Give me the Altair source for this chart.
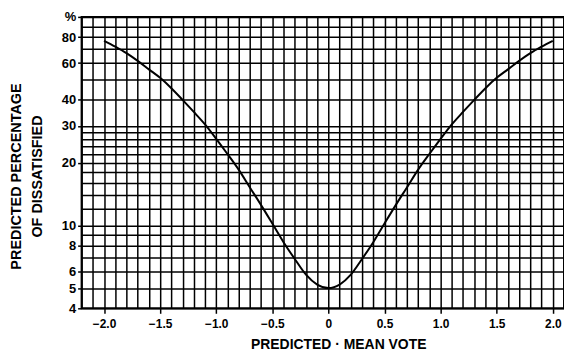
import altair as alt
import pandas as pd

# Curve: predicted mean vote vs predicted % dissatisfied
pmv = [-2.0, -1.9, -1.8, -1.7, -1.6, -1.5, -1.4, -1.3, -1.2, -1.1, -1.0,
       -0.9, -0.8, -0.7, -0.6, -0.5, -0.4, -0.3, -0.2, -0.1, 0.0,
       0.1, 0.2, 0.3, 0.4, 0.5, 0.6, 0.7, 0.8, 0.9, 1.0,
       1.1, 1.2, 1.3, 1.4, 1.5, 1.6, 1.7, 1.8, 1.9, 2.0]
ppd = [76.8, 72.0, 67.0, 61.5, 56.0, 51.0, 45.5, 40.0, 35.0, 30.5, 26.0,
       22.0, 18.5, 15.2, 12.5, 10.2, 8.3, 6.9, 5.8, 5.2, 5.0,
       5.2, 5.8, 6.9, 8.3, 10.2, 12.5, 15.2, 18.5, 22.0, 26.0,
       30.5, 35.0, 40.0, 45.5, 51.0, 56.0, 61.5, 67.0, 72.0, 76.8]

# Axis grid / label values
x_grid = [round(-2.2 + 0.1 * i, 1) for i in range(44)]
y_grid = [4, 5, 6, 7, 8, 9, 10, 12, 14, 16, 18, 20, 22, 24, 26, 28, 30,
          40, 50, 60, 70, 80, 90, 100]
y_labels = [4, 5, 6, 8, 10, 20, 30, 40, 60, 80]

df = pd.DataFrame({"pmv": pmv, "ppd": ppd})

half_test = "abs(datum.value*2 - round(datum.value*2)) < 0.001"
x_label_expr = (f"({half_test}) ? (abs(datum.value) < 0.001 ? '0' : format(datum.value, '.1f')) : ''")
ylab_arr = "[" + ",".join(str(v) for v in y_labels) + "]"
y_test = f"indexof({ylab_arr}, datum.value) >= 0 || datum.value == 100"
y_label_expr = (f"indexof({ylab_arr}, datum.value) >= 0 ? '' + datum.value : "
                f"(datum.value == 100 ? '%' : '')")

FONT = "Liberation Sans"

x_axis = alt.Axis(
    values=x_grid,
    grid=True, gridColor="black", gridWidth=1.5, gridOpacity=1,
    domain=False,
    ticks=True, tickSize=5, tickWidth=1.5,
    tickColor={"condition": {"test": half_test, "value": "black"}, "value": "transparent"},
    labelExpr=x_label_expr, labelOverlap=False, labelFlush=False,
    labelFont=FONT, labelFontSize=12, labelFontWeight="bold", labelColor="black",
    labelPadding=5,
    title="PREDICTED · MEAN VOTE",
    titleFont=FONT, titleFontSize=14, titleFontWeight="bold", titleColor="black",
    titleX=258, titleY=29, titleBaseline="top", titleAlign="center",
)

y_axis = alt.Axis(
    values=y_grid,
    grid=True, gridColor="black", gridWidth=1.5, gridOpacity=1,
    domain=False,
    ticks=True, tickSize=4, tickWidth=1.5,
    tickColor={"condition": {"test": y_test, "value": "black"}, "value": "transparent"},
    labelExpr=y_label_expr, labelOverlap=False, labelFlush=False,
    labelFont=FONT, labelFontSize=13, labelFontWeight="bold", labelColor="black",
    labelPadding=2,
    title=["PREDICTED PERCENTAGE", "OF DISSATISFIED"],
    titleFont=FONT, titleFontSize=14.5, titleFontWeight="bold", titleColor="black",
    titleAngle=270, titleX=-72, titleY=160, titleBaseline="top", titleAlign="center",
    titleLineHeight=21,
)

chart = alt.Chart(df).mark_line(
    color="black", strokeWidth=2, interpolate="monotone"
).encode(
    x=alt.X("pmv:Q", scale=alt.Scale(domain=[-2.2, 2.1], nice=False, zero=False), axis=x_axis),
    y=alt.Y("ppd:Q", scale=alt.Scale(type="log", domain=[4, 100], nice=False), axis=y_axis),
).properties(
    width=485, height=293,
    padding={"left": 74, "top": 8, "right": 0, "bottom": 44},
    autosize=alt.AutoSizeParams(type="none"),
    background="white",
).configure_view(
    stroke="black", strokeWidth=2
)

chart.save("out.html", embed_options={"renderer": "svg", "actions": False})
